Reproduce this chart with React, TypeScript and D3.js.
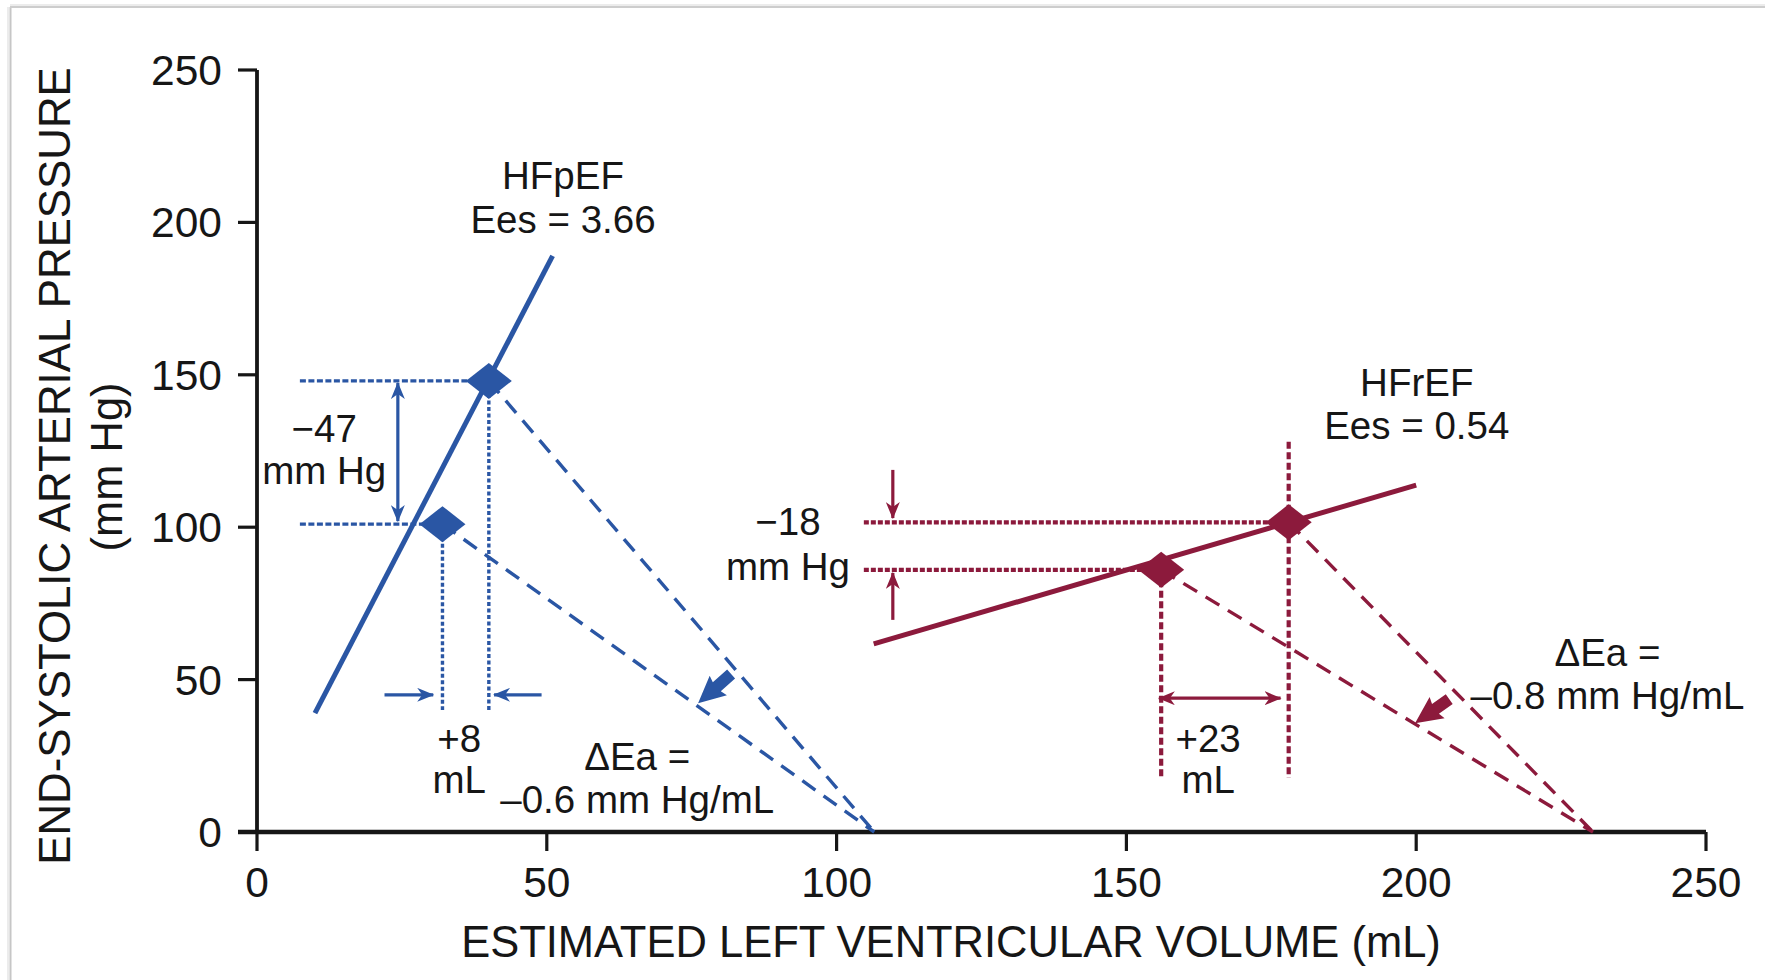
import React from "react";
import * as d3 from "d3";

const W = 1765;
const H = 980;

const xTicks = [0, 50, 100, 150, 200, 250];
const yTicks = [0, 50, 100, 150, 200, 250];
const xTitle = "ESTIMATED LEFT VENTRICULAR VOLUME (mL)";
const yTitle1 = "END-SYSTOLIC ARTERIAL PRESSURE";
const yTitle2 = "(mm Hg)";

// HFpEF (blue)
const hfpefEspvr: [number, number][] = [[10, 39], [51, 189]];
const hfpefPoints = [{ v: 40, p: 148 }, { v: 32, p: 101 }];
const hfpefEaIntercept = 106.5;
const hfpefGuides = [
  [7.4, 148, 40, 148],
  [7.4, 101, 32, 101],
  [40, 148, 40, 40],
  [32, 101, 32, 40],
];
const hfpefArrows: [number, number, number, number, boolean][] = [
  [24.3, 102, 24.3, 147.3, true],
  [22, 45, 30.4, 45, false],
  [49.1, 45, 40.9, 45, false],
];
const hfpefFatArrow = [81.8, 51.8, 76.1, 42.2];
const hfpefLabels = [
  { x: 52.8, y: 215.4, t: "HFpEF" },
  { x: 52.8, y: 201, t: "Ees = 3.66" },
  { x: 11.6, y: 132.5, t: "\u221247" },
  { x: 11.6, y: 118.8, t: "mm Hg" },
  { x: 34.9, y: 30.7, t: "+8" },
  { x: 34.9, y: 17.4, t: "mL" },
  { x: 65.6, y: 24.9, t: "\u0394Ea =" },
  { x: 65.6, y: 10.8, t: "\u20130.6 mm Hg/mL" },
];

// HFrEF (red)
const hfrefEspvr: [number, number][] = [[106.4, 61.7], [200, 113.8]];
const hfrefPoints = [{ v: 178, p: 101.6 }, { v: 156, p: 86 }];
const hfrefEaIntercept = 230.5;
const hfrefGuides = [
  [104.7, 101.6, 178, 101.6],
  [104.7, 86, 156, 86],
  [178, 128, 178, 17.7],
  [156, 86, 156, 17.7],
];
const hfrefArrows: [number, number, number, number, boolean][] = [
  [109.7, 118.8, 109.7, 103, false],
  [109.7, 69.6, 109.7, 85, false],
  [155.6, 43.9, 176.6, 43.9, true],
];
const hfrefFatArrow = [205.7, 43.6, 199.8, 35.7];
const hfrefLabels = [
  { x: 200.1, y: 147.6, t: "HFrEF" },
  { x: 200.1, y: 133.4, t: "Ees = 0.54" },
  { x: 91.6, y: 102, t: "\u221218" },
  { x: 91.6, y: 87.3, t: "mm Hg" },
  { x: 164.1, y: 30.7, t: "+23" },
  { x: 164.1, y: 17.4, t: "mL" },
  { x: 233, y: 59.1, t: "\u0394Ea =" },
  { x: 233, y: 45.1, t: "\u20130.8 mm Hg/mL" },
];

const BLUE = "#2a56a4";
const RED = "#8c1a3c";
const INK = "#161616";
const FONT = "'Liberation Sans', Arial, Helvetica, sans-serif";

const x = d3.scaleLinear().domain([0, 250]).range([257, 1706]);
const y = d3.scaleLinear().domain([0, 250]).range([832, 70]);

function fatArrowPoints(d: number[], sw = 12, hl = 22, hw = 26) {
  const x1 = x(d[0]), y1 = y(d[1]), x2 = x(d[2]), y2 = y(d[3]);
  const dx = x2 - x1, dy = y2 - y1;
  const L = Math.hypot(dx, dy);
  const ux = dx / L, uy = dy / L;
  const px = -uy, py = ux;
  const bx = x2 - ux * hl, by = y2 - uy * hl;
  const pts = [
    [x1 + (px * sw) / 2, y1 + (py * sw) / 2],
    [bx + (px * sw) / 2 - ux * 3, by + (py * sw) / 2 - uy * 3],
    [bx + (px * hw) / 2 - ux * 5, by + (py * hw) / 2 - uy * 5],
    [x2, y2],
    [bx - (px * hw) / 2 - ux * 5, by - (py * hw) / 2 - uy * 5],
    [bx - (px * sw) / 2 - ux * 3, by - (py * sw) / 2 - uy * 3],
    [x1 - (px * sw) / 2, y1 - (py * sw) / 2],
  ];
  return pts.map((p) => p.join(",")).join(" ");
}

const diamond = "M -23 0 L 0 -18 L 23 0 L 0 18 Z";
const line = d3.line<[number, number]>().x((d) => x(d[0])).y((d) => y(d[1]));

function Group({
  color, espvr, points, intercept, guides, guideDash, guideW, vGuideDash, arrows, fat, labels, id,
}: any) {
  return (
    <g>
      {points.map((pt: any, i: number) => (
        <line key={"ea" + i} x1={x(pt.v)} y1={y(pt.p)} x2={x(intercept)} y2={y(0)}
          stroke={color} strokeWidth={3.4} strokeDasharray="16 10" />
      ))}
      {guides.map((g: number[], i: number) => (
        <line key={"g" + i} x1={x(g[0])} y1={y(g[1])} x2={x(g[2])} y2={y(g[3])}
          stroke={color} strokeWidth={guideW}
          strokeDasharray={g[0] === g[2] ? vGuideDash : guideDash} />
      ))}
      <path d={line(espvr) || ""} stroke={color} strokeWidth={5} fill="none" />
      {points.map((pt: any, i: number) => (
        <path key={"d" + i} d={diamond} transform={`translate(${x(pt.v)},${y(pt.p)})`} fill={color} />
      ))}
      {arrows.map((a: any, i: number) => (
        <line key={"a" + i} x1={x(a[0])} y1={y(a[1])} x2={x(a[2])} y2={y(a[3])}
          stroke={color} strokeWidth={3.2}
          markerEnd={`url(#head-${id})`} markerStart={a[4] ? `url(#head-${id})` : undefined} />
      ))}
      <polygon points={fatArrowPoints(fat)} fill={color} />
      {labels.map((l: any, i: number) => (
        <text key={"l" + i} x={x(l.x)} y={y(l.y) + 14} textAnchor="middle"
          fontSize={38.5} fill={INK} fontFamily={FONT}>{l.t}</text>
      ))}
    </g>
  );
}

export default function App() {
  return (
    <svg width={W} height={H} viewBox={`0 0 ${W} ${H}`}
      style={{ position: "absolute", left: 0, top: 0, display: "block", background: "#fff" }}>
      <defs>
        {[["blue", BLUE], ["red", RED]].map(([id, c]) => (
          <marker key={id} id={`head-${id}`} viewBox="0 0 17 14" markerWidth={17} markerHeight={14}
            refX={16} refY={7} orient="auto-start-reverse" markerUnits="userSpaceOnUse">
            <path d="M0,0 L17,7 L0,14 L5,7 Z" fill={c} />
          </marker>
        ))}
      </defs>
      <rect x={0} y={0} width={W} height={H} fill="#fff" />
      {/* frame */}
      <line x1={8} y1={7} x2={8} y2={H} stroke="#ececec" strokeWidth={2} />
      <line x1={10.5} y1={7} x2={10.5} y2={H} stroke="#c6c6c6" strokeWidth={2} />
      <line x1={10} y1={5} x2={W} y2={5} stroke="#ececec" strokeWidth={2} />
      <line x1={10} y1={7} x2={W} y2={7} stroke="#cdcdcd" strokeWidth={2} />

      {/* axes */}
      <line x1={x(0)} y1={y(250)} x2={x(0)} y2={y(0)} stroke={INK} strokeWidth={3.8} />
      <line x1={x(0) - 19} y1={y(0)} x2={x(250)} y2={y(0)} stroke={INK} strokeWidth={4.4} />
      {yTicks.map((t) => (
        <g key={"yt" + t}>
          <line x1={x(0) - 19} x2={x(0)} y1={y(t)} y2={y(t)} stroke={INK} strokeWidth={3.2} />
          <text x={x(0) - 35} y={y(t) + 15} textAnchor="end" fontSize={42.5} fill={INK} fontFamily={FONT}>{t}</text>
        </g>
      ))}
      {xTicks.map((t) => (
        <g key={"xt" + t}>
          <line x1={x(t)} x2={x(t)} y1={y(0)} y2={y(0) + 19} stroke={INK} strokeWidth={3.2} />
          <text x={x(t)} y={y(0) + 65} textAnchor="middle" fontSize={42.5} fill={INK} fontFamily={FONT}>{t}</text>
        </g>
      ))}
      <text x={951} y={957} textAnchor="middle" fontSize={43.5} fill={INK} fontFamily={FONT}>{xTitle}</text>
      <text transform="translate(70,466) rotate(-90)" textAnchor="middle" fontSize={43.8} fill={INK} fontFamily={FONT}>{yTitle1}</text>
      <text transform="translate(122,467) rotate(-90)" textAnchor="middle" fontSize={43.5} fill={INK} fontFamily={FONT}>{yTitle2}</text>

      <Group id="blue" color={BLUE} espvr={hfpefEspvr} points={hfpefPoints} intercept={hfpefEaIntercept}
        guides={hfpefGuides} guideDash="6 2.5" vGuideDash="4 2.5" guideW={3.4}
        arrows={hfpefArrows} fat={hfpefFatArrow} labels={hfpefLabels} />
      <Group id="red" color={RED} espvr={hfrefEspvr} points={hfrefPoints} intercept={hfrefEaIntercept}
        guides={hfrefGuides} guideDash="5 2" vGuideDash="7 3.5" guideW={4.2}
        arrows={hfrefArrows} fat={hfrefFatArrow} labels={hfrefLabels} />
    </svg>
  );
}
